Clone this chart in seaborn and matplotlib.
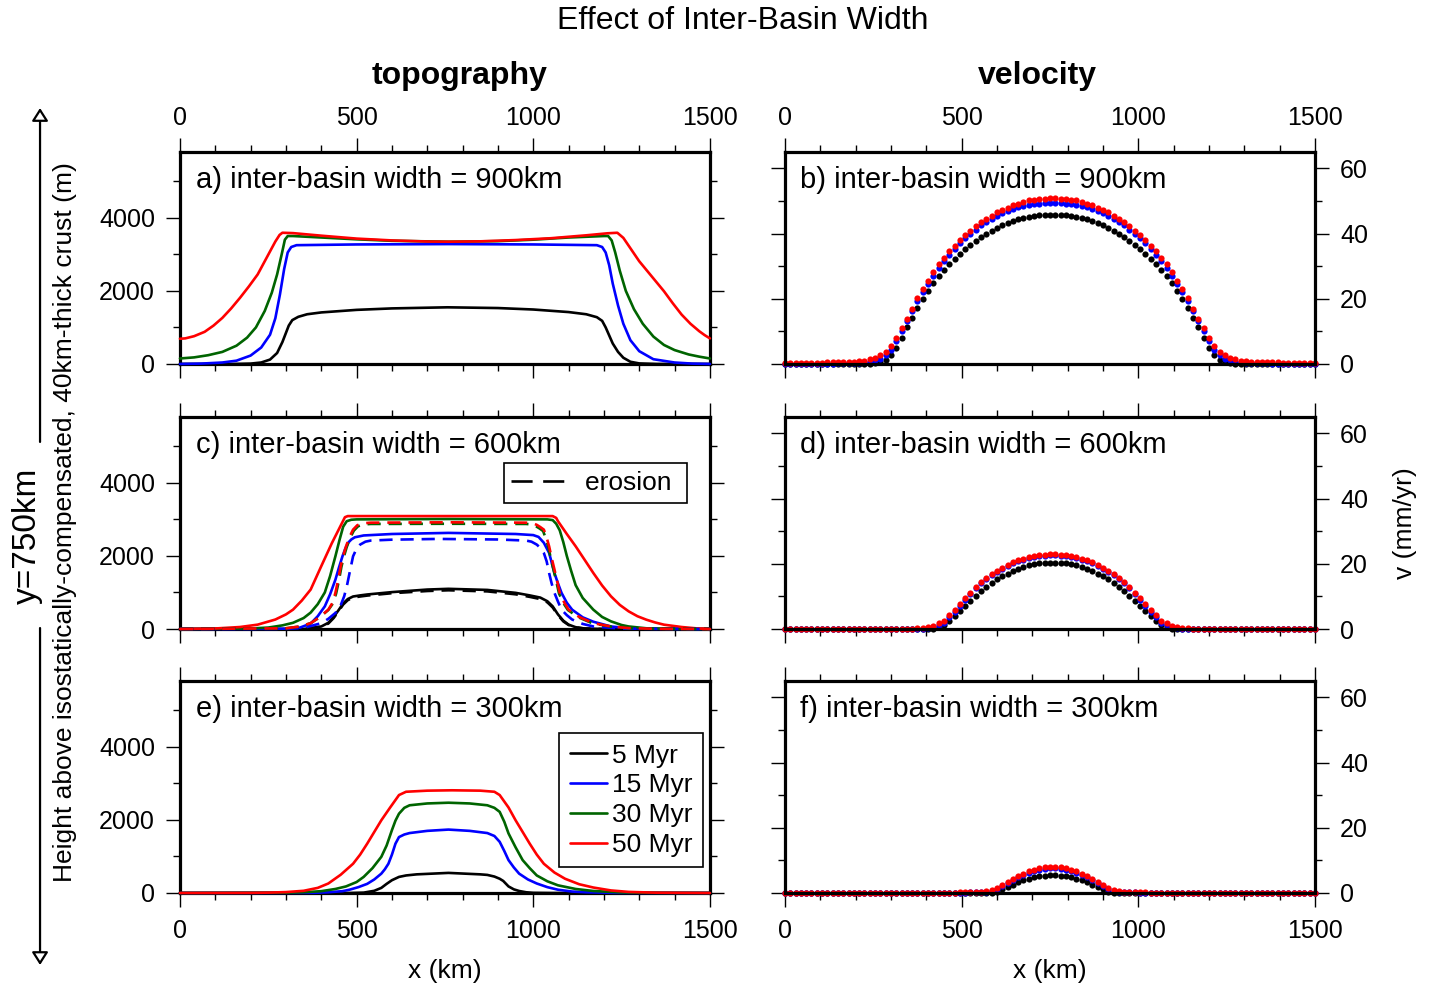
import numpy as np
import pandas as pd
import matplotlib
matplotlib.use("Agg")
import matplotlib.pyplot as plt
from matplotlib.ticker import MultipleLocator
from matplotlib.lines import Line2D
from matplotlib.patches import FancyArrowPatch
import seaborn as sns

# ---------------- data ----------------
time_labels = ["5 Myr", "15 Myr", "30 Myr", "50 Myr"]
time_colors = ["black", "#0000ff", "#006400", "#ff0000"]
widths = ["900km", "600km", "300km"]

# topography (m) along x (km), 900 km inter-basin width
topo_a_5_x = [0, 150, 200, 230, 255, 275, 290, 300, 308, 318, 335, 360, 400, 500, 600, 757, 900, 1000, 1100,
              1150, 1180, 1195, 1205, 1215, 1225, 1240, 1255, 1275, 1300, 1350, 1500]
topo_a_5_y = [0, 0, 10, 40, 120, 300, 600, 850, 1050, 1200, 1290, 1360, 1410, 1480, 1520, 1550, 1530, 1490, 1420,
              1360, 1280, 1180, 1000, 780, 560, 330, 170, 60, 15, 0, 0]
topo_a_15_x = [0, 60, 120, 160, 200, 230, 255, 270, 283, 295, 305, 315, 330, 500, 760, 1000, 1180, 1195, 1205,
               1215, 1225, 1240, 1255, 1275, 1300, 1340, 1400, 1450, 1500]
topo_a_15_y = [0, 10, 40, 90, 230, 450, 800, 1250, 1900, 2600, 3050, 3200, 3250, 3270, 3280, 3270, 3250, 3200, 3050,
               2700, 2200, 1600, 1100, 650, 350, 130, 40, 10, 0]
topo_a_30_x = [0, 40, 80, 120, 160, 190, 215, 240, 260, 275, 288, 297, 305, 320, 400, 500, 600, 760, 900, 1000,
               1100, 1200, 1212, 1222, 1232, 1245, 1262, 1285, 1310, 1340, 1370, 1400, 1440, 1470, 1500]
topo_a_30_y = [150, 180, 240, 330, 500, 720, 1000, 1450, 1950, 2450, 3000, 3400, 3500, 3500, 3460, 3410, 3370, 3345,
               3360, 3400, 3460, 3500, 3500, 3380, 3050, 2550, 2000, 1500, 1100, 750, 520, 380, 260, 200, 150]
topo_a_50_x = [0, 15, 40, 70, 95, 120, 145, 170, 195, 220, 245, 270, 282, 290, 320, 400, 500, 600, 700, 760,
               850, 950, 1050, 1150, 1210, 1238, 1255, 1300, 1335, 1370, 1395, 1420, 1445, 1470, 1485, 1500]
topo_a_50_y = [690, 700, 760, 880, 1050, 1260, 1520, 1810, 2120, 2450, 2900, 3350, 3530, 3590, 3580, 3510, 3430,
               3380, 3350, 3345, 3355, 3390, 3440, 3520, 3575, 3590, 3450, 2810, 2400, 1990, 1660, 1350, 1100, 895,
               790, 700]

# 600 km inter-basin width, no erosion
topo_c_5_x = [0, 350, 400, 420, 435, 450, 462, 475, 490, 510, 530, 600, 700, 760, 870, 950, 990, 1020, 1040,
              1055, 1070, 1085, 1100, 1120, 1145, 1200, 1500]
topo_c_5_y = [0, 0, 70, 170, 330, 530, 700, 820, 890, 920, 945, 1010, 1080, 1100, 1070, 990, 920, 860, 760,
              620, 400, 230, 120, 50, 15, 0, 0]
topo_c_15_x = [0, 250, 300, 340, 370, 390, 410, 425, 440, 450, 460, 468, 476, 485, 495, 520, 600, 760, 950,
               1000, 1015, 1030, 1045, 1060, 1070, 1080, 1095, 1110, 1140, 1170, 1220, 1270, 1350, 1500]
topo_c_15_y = [0, 5, 10, 40, 150, 350, 620, 950, 1350, 1680, 1990, 2200, 2360, 2450, 2510, 2560, 2600, 2630, 2600,
               2570, 2520, 2360, 2080, 1530, 1250, 990, 720, 530, 320, 200, 70, 20, 5, 0]
topo_c_30_x = [0, 200, 250, 290, 320, 350, 370, 390, 410, 425, 440, 452, 462, 472, 485, 500, 760, 1040, 1055,
               1065, 1075, 1085, 1095, 1107, 1120, 1140, 1170, 1195, 1220, 1250, 1270, 1320, 1400, 1500]
topo_c_30_y = [0, 15, 40, 100, 170, 300, 450, 680, 1000, 1450, 1990, 2450, 2800, 2950, 2990, 3000, 3010, 3000, 2980,
               2880, 2700, 2380, 2000, 1600, 1200, 850, 530, 330, 210, 110, 70, 20, 5, 0]
topo_c_50_x = [0, 100, 170, 220, 270, 300, 320, 345, 370, 385, 400, 430, 455, 467, 475, 760, 1055, 1065, 1070,
               1095, 1120, 1145, 1170, 1195, 1220, 1245, 1270, 1295, 1320, 1345, 1370, 1420, 1460, 1500]
topo_c_50_y = [0, 15, 55, 120, 260, 400, 530, 780, 1080, 1400, 1720, 2350, 2830, 3060, 3090, 3090, 3090, 3040, 2950,
               2600, 2264, 1900, 1534, 1190, 895, 660, 484, 350, 256, 180, 119, 55, 20, 0]

# 600 km inter-basin width, with erosion (dashed)
eros_c_5_x = [0, 350, 400, 420, 435, 450, 462, 475, 490, 510, 530, 600, 700, 760, 870, 950, 990, 1020, 1040,
              1055, 1070, 1085, 1100, 1120, 1145, 1200, 1500]
eros_c_5_y = [0, 0, 60, 150, 300, 500, 670, 790, 860, 890, 915, 980, 1040, 1060, 1030, 950, 880, 820, 730,
              590, 380, 210, 110, 45, 12, 0, 0]
eros_c_15_x = [0, 300, 350, 400, 420, 440, 455, 465, 473, 480, 490, 500, 510, 525, 540, 600, 730, 900, 980, 995,
               1010, 1020, 1030, 1038, 1045, 1052, 1060, 1070, 1080, 1095, 1110, 1140, 1170, 1250, 1500]
eros_c_15_y = [0, 5, 30, 160, 280, 440, 650, 900, 1200, 1530, 1990, 2200, 2310, 2390, 2420, 2445, 2465, 2450, 2420,
               2390, 2310, 2220, 2080, 1850, 1530, 1250, 990, 750, 530, 380, 260, 140, 70, 10, 0]
eros_c_30_x = [0, 300, 340, 370, 395, 420, 433, 442, 450, 457, 464, 472, 482, 492, 504, 517, 540, 760, 980, 998,
               1008, 1018, 1028, 1036, 1043, 1050, 1058, 1066, 1073, 1086, 1098, 1128, 1168, 1220, 1270, 1350, 1500]
eros_c_30_y = [0, 20, 70, 160, 320, 520, 700, 970, 1330, 1700, 1980, 2240, 2500, 2690, 2810, 2860, 2875, 2880, 2875,
               2860, 2810, 2750, 2680, 2460, 2230, 1920, 1600, 1270, 970, 700, 520, 320, 155, 65, 22, 5, 0]
eros_c_50_x = [0, 300, 340, 370, 395, 420, 432, 440, 448, 455, 462, 470, 480, 490, 502, 515, 540, 760, 980, 1000,
               1010, 1020, 1030, 1038, 1045, 1052, 1060, 1068, 1075, 1088, 1100, 1130, 1170, 1220, 1270, 1350, 1500]
eros_c_50_y = [0, 20, 70, 160, 320, 530, 720, 990, 1350, 1720, 2000, 2260, 2520, 2720, 2840, 2890, 2910, 2920, 2910,
               2890, 2850, 2790, 2720, 2500, 2260, 1950, 1630, 1300, 990, 720, 530, 330, 160, 70, 25, 5, 0]

# 300 km inter-basin width
topo_e_5_x = [0, 480, 520, 550, 570, 585, 600, 620, 640, 670, 760, 850, 870, 890, 905, 915, 930, 945, 960, 980,
              1000, 1050, 1500]
topo_e_5_y = [0, 0, 10, 60, 140, 250, 350, 440, 480, 510, 550, 510, 495, 450, 390, 330, 180, 100, 55, 20, 5, 0, 0]
topo_e_15_x = [0, 380, 420, 460, 480, 505, 530, 550, 570, 580, 590, 600, 610, 620, 635, 650, 700, 760, 820, 870,
               890, 905, 918, 930, 945, 960, 985, 1010, 1040, 1070, 1110, 1150, 1230, 1500]
topo_e_15_y = [0, 5, 20, 50, 90, 160, 250, 370, 530, 650, 800, 1050, 1350, 1530, 1600, 1640, 1700, 1735, 1700, 1640,
               1560, 1400, 1150, 900, 700, 530, 370, 260, 160, 90, 40, 20, 5, 0]
topo_e_30_x = [0, 300, 350, 400, 440, 470, 500, 520, 545, 570, 585, 600, 610, 620, 635, 650, 700, 760, 820, 870,
               890, 905, 918, 930, 950, 970, 990, 1010, 1040, 1070, 1120, 1170, 1250, 1350, 1500]
topo_e_30_y = [0, 8, 20, 50, 110, 180, 300, 440, 680, 990, 1300, 1720, 1980, 2170, 2330, 2400, 2450, 2470, 2450,
               2400, 2330, 2220, 1950, 1630, 1250, 900, 680, 480, 320, 210, 110, 55, 15, 3, 0]
topo_e_50_x = [0, 200, 250, 300, 350, 390, 420, 455, 490, 510, 530, 550, 570, 595, 620, 640, 700, 770, 850, 890,
               905, 930, 950, 970, 990, 1010, 1030, 1060, 1090, 1130, 1170, 1220, 1270, 1350, 1500]
topo_e_50_y = [0, 3, 10, 25, 60, 140, 260, 500, 800, 1050, 1350, 1670, 1990, 2340, 2680, 2770, 2800, 2810, 2800,
               2770, 2680, 2340, 1990, 1670, 1350, 1050, 800, 560, 390, 240, 150, 70, 30, 8, 0]

# velocity (mm/yr) sampled every 15 km across the model
vel_x = np.arange(0, 1501, 15)

vel_b_5 = [0, 0, 0, 0, 0, 0, 0, 0, 0, 0, 0, 0, 0, 0, 0, 0,
           0.0, 0.2, 0.7, 1.2, 2.7, 5.0, 8.0, 11.2, 14.2, 17.1, 19.8, 22.4, 24.7, 26.9, 28.8, 30.6, 32.1, 33.6,
           35.1, 36.5, 37.7, 38.9, 39.9, 40.8, 41.7, 42.5, 43.2, 43.8, 44.3, 44.8, 45.1, 45.4, 45.6, 45.7, 45.8,
           45.8, 45.7, 45.6, 45.4, 45.1, 44.8, 44.3, 43.8, 43.2, 42.5, 41.7, 40.8, 39.9, 38.9, 37.7, 36.5, 35.1,
           33.6, 32.1, 30.6, 28.8, 26.9, 24.7, 22.4, 19.8, 17.1, 14.2, 11.2, 8.0, 5.0, 2.7, 1.2, 0.7, 0.2, 0.0,
           0, 0, 0, 0, 0, 0, 0, 0, 0, 0, 0, 0, 0, 0, 0]
vel_b_15 = [0.1, 0.1, 0.1, 0.1, 0.1, 0.1, 0.1, 0.1, 0.1, 0.1, 0.2, 0.2, 0.3, 0.3, 0.4, 0.5,
            0.7, 1.1, 1.6, 2.7, 4.2, 6.9, 10.0, 13.1, 16.2, 19.2, 22.0, 24.6, 27.1, 29.5, 31.5, 33.5, 35.3, 37.0,
            38.6, 39.9, 41.2, 42.5, 43.6, 44.6, 45.4, 46.3, 47.0, 47.6, 48.1, 48.5, 48.8, 49.0, 49.2, 49.3, 49.4,
            49.4, 49.3, 49.2, 49.0, 48.8, 48.5, 48.1, 47.6, 47.0, 46.3, 45.4, 44.6, 43.6, 42.5, 41.2, 39.9, 38.6,
            37.0, 35.3, 33.5, 31.5, 29.5, 27.1, 24.6, 22.0, 19.2, 16.2, 13.1, 10.0, 6.9, 4.2, 2.7, 1.6, 1.1, 0.7,
            0.5, 0.4, 0.3, 0.3, 0.2, 0.2, 0.1, 0.1, 0.1, 0.1, 0.1, 0.1, 0.1, 0.1, 0.1]
vel_b_50 = [0.3, 0.3, 0.3, 0.3, 0.4, 0.4, 0.4, 0.4, 0.5, 0.5, 0.5, 0.6, 0.6, 0.7, 0.8, 1.0,
            1.4, 1.9, 2.7, 3.8, 5.5, 8.1, 11.0, 13.8, 17.0, 20.1, 23.0, 25.5, 28.1, 30.5, 32.5, 34.5, 36.3, 37.9,
            39.6, 40.9, 42.4, 43.5, 44.5, 45.5, 46.5, 47.2, 47.9, 48.6, 49.2, 49.7, 50.2, 50.4, 50.6, 50.7, 50.8,
            50.8, 50.7, 50.6, 50.4, 50.2, 49.7, 49.2, 48.6, 47.9, 47.2, 46.5, 45.5, 44.5, 43.5, 42.4, 40.9, 39.6,
            37.9, 36.3, 34.5, 32.5, 30.5, 28.1, 25.5, 23.0, 20.1, 17.0, 13.8, 11.0, 8.1, 5.5, 3.8, 2.7, 1.9, 1.4,
            1.0, 0.8, 0.7, 0.6, 0.6, 0.5, 0.5, 0.5, 0.4, 0.4, 0.4, 0.4, 0.3, 0.3, 0.3]

vel_d_5 = [0, 0, 0, 0, 0, 0, 0, 0, 0, 0, 0, 0, 0, 0, 0, 0, 0, 0, 0, 0, 0, 0, 0, 0, 0, 0, 0, 0,
           0.0, 0.5, 1.3, 2.6, 4.0, 5.5, 7.1, 8.7, 10.2, 11.6, 12.9, 14.1, 15.2, 16.2, 17.0, 17.8, 18.5,
           19.1, 19.6, 19.9, 20.1, 20.3, 20.3,
           20.3, 20.3, 20.1, 19.9, 19.6, 19.1, 18.5, 17.8, 17.0, 16.2, 15.2, 14.1, 12.9, 11.6, 10.2, 8.7,
           7.1, 5.5, 4.0, 2.6, 1.3, 0.5, 0.0,
           0, 0, 0, 0, 0, 0, 0, 0, 0, 0, 0, 0, 0, 0, 0, 0, 0, 0, 0, 0, 0, 0, 0, 0, 0, 0, 0]
vel_d_15 = [0, 0, 0, 0, 0, 0, 0, 0, 0, 0, 0, 0, 0, 0, 0, 0, 0, 0, 0, 0, 0, 0,
            0.0, 0.0, 0.0, 0.1, 0.1, 0.3, 0.5, 1.1, 2.0, 3.6, 5.3, 7.2, 9.0, 10.8, 12.5, 14.0, 15.4, 16.6,
            17.6, 18.5, 19.4, 20.2, 20.8, 21.3, 21.8, 22.1, 22.4, 22.5, 22.6,
            22.6, 22.5, 22.4, 22.1, 21.8, 21.3, 20.8, 20.2, 19.4, 18.5, 17.6, 16.6, 15.4, 14.0, 12.5, 10.8,
            9.0, 7.2, 5.3, 3.6, 2.0, 1.1, 0.5, 0.3, 0.1, 0.1, 0.0, 0.0, 0.0,
            0, 0, 0, 0, 0, 0, 0, 0, 0, 0, 0, 0, 0, 0, 0, 0, 0, 0, 0, 0, 0]
vel_d_50 = [0.1, 0.1, 0.1, 0.1, 0.1, 0.1, 0.1, 0.1, 0.1, 0.1, 0.1, 0.1, 0.1, 0.1, 0.1, 0.1, 0.1, 0.1, 0.1, 0.1, 0.1, 0.1,
            0.1, 0.1, 0.1, 0.2, 0.3, 0.6, 0.8, 1.7, 2.6, 4.2, 5.8, 7.6, 9.4, 11.1, 12.8, 14.3, 15.7, 16.9,
            17.9, 18.8, 19.6, 20.4, 21.1, 21.6, 22.0, 22.4, 22.6, 22.8, 22.9,
            22.9, 22.8, 22.6, 22.4, 22.0, 21.6, 21.1, 20.4, 19.6, 18.8, 17.9, 16.9, 15.7, 14.3, 12.8, 11.1,
            9.4, 7.6, 5.8, 4.2, 2.6, 1.7, 0.8, 0.6, 0.3, 0.2, 0.1, 0.1, 0.1,
            0.1, 0.1, 0.1, 0.1, 0.1, 0.1, 0.1, 0.1, 0.1, 0.1, 0.1, 0.1, 0.1, 0.1, 0.1, 0.1, 0.1, 0.1, 0.1, 0.1, 0.1]

vel_f_5 = [0, 0, 0, 0, 0, 0, 0, 0, 0, 0, 0, 0, 0, 0, 0, 0, 0, 0, 0, 0,
           0, 0, 0, 0, 0, 0, 0, 0, 0, 0, 0, 0, 0, 0, 0, 0, 0, 0, 0, 0,
           0.2, 1.2, 1.9, 2.6, 3.3, 3.9, 4.4, 4.8, 5.1, 5.3, 5.4,
           5.4, 5.3, 5.1, 4.8, 4.4, 3.9, 3.3, 2.6, 1.9, 1.2, 0.2,
           0, 0, 0, 0, 0, 0, 0, 0, 0, 0, 0, 0, 0, 0, 0, 0, 0, 0, 0, 0,
           0, 0, 0, 0, 0, 0, 0, 0, 0, 0, 0, 0, 0, 0, 0, 0, 0, 0, 0]
vel_f_15 = [0, 0, 0, 0, 0, 0, 0, 0, 0, 0, 0, 0, 0, 0, 0, 0, 0, 0, 0, 0,
            0, 0, 0, 0, 0, 0, 0, 0, 0, 0, 0, 0, 0,
            0.1, 0.1, 0.2, 0.2, 0.3, 0.4, 0.6, 1.2, 2.1, 3.0, 3.9, 4.9, 5.6, 6.2, 6.8, 7.2, 7.5, 7.6,
            7.6, 7.5, 7.2, 6.8, 6.2, 5.6, 4.9, 3.9, 3.0, 2.1, 1.2, 0.6, 0.4, 0.3, 0.2, 0.2, 0.1, 0.1,
            0, 0, 0, 0, 0, 0, 0, 0, 0, 0, 0, 0, 0, 0, 0, 0, 0, 0, 0, 0,
            0, 0, 0, 0, 0, 0, 0, 0, 0, 0, 0, 0]
vel_f_50 = [0.1, 0.1, 0.1, 0.1, 0.1, 0.1, 0.1, 0.1, 0.1, 0.1, 0.1, 0.1, 0.1, 0.1, 0.1, 0.1, 0.1, 0.1, 0.1, 0.1,
            0.1, 0.1, 0.1, 0.1, 0.1, 0.1, 0.1, 0.1, 0.1, 0.1, 0.1, 0.1, 0.1,
            0.2, 0.2, 0.3, 0.3, 0.4, 0.5, 0.8, 1.5, 2.5, 3.3, 4.2, 5.2, 5.9, 6.6, 7.2, 7.6, 7.9, 8.0,
            8.0, 7.9, 7.6, 7.2, 6.6, 5.9, 5.2, 4.2, 3.3, 2.5, 1.5, 0.8, 0.5, 0.4, 0.3, 0.3, 0.2, 0.2,
            0.1, 0.1, 0.1, 0.1, 0.1, 0.1, 0.1, 0.1, 0.1, 0.1, 0.1, 0.1, 0.1, 0.1, 0.1, 0.1, 0.1, 0.1, 0.1, 0.1,
            0.1, 0.1, 0.1, 0.1, 0.1, 0.1, 0.1, 0.1, 0.1, 0.1, 0.1, 0.1]

# ---------------- style ----------------
sns.set_style("ticks")
plt.rcParams['font.family'] = ['Liberation Sans', 'DejaVu Sans']
plt.rcParams['text.color'] = 'black'
plt.rcParams['axes.labelcolor'] = 'black'
NARROW = ['Liberation Sans Narrow', 'Liberation Sans', 'DejaVu Sans']
FS = 18
LW = 1.9
DASH = (0, (5, 3))

fig = plt.figure(figsize=(14.35, 9.92), dpi=100, facecolor='white')

left_x, right_x, ax_w, ax_h = 0.1254, 0.5470, 0.3693, 0.2137
row_bottoms = [0.6331, 0.3659, 0.0998]
letters = [("a", "b"), ("c", "d"), ("e", "f")]

topo_sets = [
    [(topo_a_5_x, topo_a_5_y), (topo_a_15_x, topo_a_15_y), (topo_a_30_x, topo_a_30_y), (topo_a_50_x, topo_a_50_y)],
    [(topo_c_5_x, topo_c_5_y), (topo_c_15_x, topo_c_15_y), (topo_c_30_x, topo_c_30_y), (topo_c_50_x, topo_c_50_y)],
    [(topo_e_5_x, topo_e_5_y), (topo_e_15_x, topo_e_15_y), (topo_e_30_x, topo_e_30_y), (topo_e_50_x, topo_e_50_y)],
]
eros_set = [(eros_c_5_x, eros_c_5_y), (eros_c_15_x, eros_c_15_y), (eros_c_30_x, eros_c_30_y), (eros_c_50_x, eros_c_50_y)]
vel_sets = [
    [vel_b_5, vel_b_15, vel_b_50],
    [vel_d_5, vel_d_15, vel_d_50],
    [vel_f_5, vel_f_15, vel_f_50],
]
vel_colors = [time_colors[0], time_colors[1], time_colors[3]]


def style_axes(ax, row, side):
    ax.set_xlim(0, 1500)
    ax.set_xticks([0, 500, 1000, 1500])
    ax.xaxis.set_minor_locator(MultipleLocator(100))
    if side == "left":
        ax.set_ylim(0, 5800)
        ax.set_yticks([0, 2000, 4000])
        ax.yaxis.set_minor_locator(MultipleLocator(1000))
    else:
        ax.set_ylim(0, 65)
        ax.set_yticks([0, 20, 40, 60])
        ax.yaxis.set_minor_locator(MultipleLocator(10))
    ax.tick_params(which='both', direction='out', top=True, bottom=True, left=True, right=True,
                   width=1.0, colors='black', labelsize=FS)
    ax.tick_params(which='major', length=10)
    ax.tick_params(which='minor', length=5)
    ax.tick_params(axis='x', which='major', pad=5.5 if row == 0 else 9)
    ax.tick_params(axis='y', which='major', pad=8)
    ax.tick_params(axis='x', labeltop=(row == 0), labelbottom=(row == 2))
    ax.tick_params(axis='y', labelleft=(side == "left"), labelright=(side == "right"))
    for sp in ax.spines.values():
        sp.set_linewidth(2.3)
        sp.set_color('black')
        sp.set_zorder(2.5)
    ax.set_xlabel("")
    ax.set_ylabel("")
    ax.set_facecolor('white')


for r in range(3):
    # topography
    ax = fig.add_axes([left_x, row_bottoms[r], ax_w, ax_h])
    for (xs, ys), col in zip(topo_sets[r], time_colors):
        sns.lineplot(x=xs, y=ys, color=col, linewidth=LW, sort=False, estimator=None,
                     ax=ax, zorder=3, clip_on=False)
    if r == 1:
        for (xs, ys), col in zip(eros_set, time_colors):
            sns.lineplot(x=xs, y=ys, color=col, linewidth=LW, linestyle=DASH, sort=False,
                         estimator=None, ax=ax, zorder=3, clip_on=False)
    style_axes(ax, r, "left")
    ax.text(0.03, 0.868, f"{letters[r][0]}) inter-basin width = {widths[r]}", transform=ax.transAxes,
            fontsize=21, ha='left', va='center')
    if r == 1:
        h = [Line2D([], [], color='black', lw=LW, linestyle=(0, (8, 4)))]
        leg = ax.legend(h, ["erosion "], loc='upper right', bbox_to_anchor=(0.957, 0.784),
                        borderaxespad=0, fontsize=19, frameon=True, fancybox=False, framealpha=1,
                        edgecolor='black', handlelength=2.2, handletextpad=0.6, borderpad=0.3)
        leg.get_frame().set_linewidth(1.2)
    if r == 2:
        h = [Line2D([], [], color=c, lw=LW) for c in time_colors]
        leg = ax.legend(h, time_labels, loc='upper right', bbox_to_anchor=(0.987, 0.755),
                        borderaxespad=0, fontsize=19, frameon=True, fancybox=False, framealpha=1,
                        edgecolor='black', handlelength=1.4, handletextpad=0.2, labelspacing=0.22,
                        borderpad=0.4)
        leg.get_frame().set_linewidth(1.2)

    # velocity
    ax = fig.add_axes([right_x, row_bottoms[r], ax_w, ax_h])
    for vs, col in zip(vel_sets[r], vel_colors):
        sns.scatterplot(x=vel_x, y=vs, color=col, s=20, linewidth=0, ax=ax, zorder=2, clip_on=False)
    style_axes(ax, r, "right")
    ax.text(0.028, 0.868, f"{letters[r][1]}) inter-basin width = {widths[r]}", transform=ax.transAxes,
            fontsize=21, ha='left', va='center')

# figure-level text
fig.text(0.5178, 0.9788, "Effect of Inter-Basin Width", ha='center', va='center', fontsize=23)
fig.text(0.3206, 0.9234, "topography", ha='center', va='center', fontsize=23, fontweight='bold')
fig.text(0.7226, 0.9234, "velocity", ha='center', va='center', fontsize=23, fontweight='bold')
fig.text(0.3101, 0.0212, "x (km)", ha='center', va='center', fontsize=19)
fig.text(0.7317, 0.0212, "x (km)", ha='center', va='center', fontsize=19)
fig.text(0.9791, 0.4728, "v (mm/yr)", ha='center', va='center', rotation=90, fontsize=19)
fig.text(0.0453, 0.4738, "Height above isostatically-compensated, 40km-thick crust (m)",
         ha='center', va='center', rotation=90, fontsize=19, family=NARROW)
fig.text(0.0188, 0.4597, "y=750km", ha='center', va='center', rotation=90, fontsize=24, family=NARROW)

# arrows along the left margin
arrow_kw = dict(arrowstyle='-|>,head_length=0.55,head_width=0.35', mutation_scale=14,
                fc='white', ec='black', lw=1.6, shrinkA=0, shrinkB=0, transform=fig.transFigure)
fig.add_artist(FancyArrowPatch((0.0279, 0.5545), (0.0279, 0.8911), **arrow_kw))
fig.add_artist(FancyArrowPatch((0.0279, 0.3669), (0.0279, 0.0272), **arrow_kw))

fig.savefig("out.png", dpi=100, facecolor='white')
